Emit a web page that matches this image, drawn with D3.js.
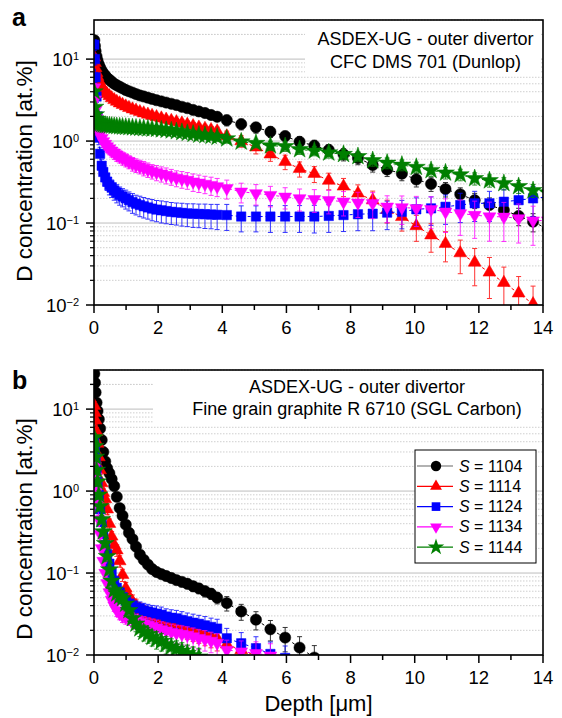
<!DOCTYPE html>
<html><head><meta charset="utf-8">
<script src="https://cdn.jsdelivr.net/npm/d3@7"></script>
<style>body{margin:0;background:#fff}svg{display:block}text{font-family:Arial,"Liberation Sans",Helvetica,sans-serif}</style>
</head><body><svg id="c" width="562" height="718"></svg>
<script>
// ---------------- DATA ----------------
const depth = [0.01,0.03,0.05,0.08,0.11,0.15,0.19,0.24,0.29,0.35,
 0.41,0.48,0.55,0.63,0.71,0.80,0.89,0.99,1.09,1.20,
 1.31,1.43,1.55,1.68,1.81,1.95,2.10,2.25,2.41,2.57,
 2.74,2.91,3.09,3.27,3.46,3.65,3.84,4.14,4.59,5.05,
 5.50,5.96,6.41,6.87,7.32,7.78,8.23,8.69,9.14,9.60,
 10.05,10.51,10.96,11.42,11.87,12.33,12.78,13.24,13.69,14.15];

const seriesLabels = ["1104","1114","1124","1134","1144"];
const seriesColors = ["#000000","#ff0000","#0000ff","#ff00ff","#007f00"];
const legendLineColors = ["#666666","#ff0000","#0000ff","#ff00ff","#007f00"];
const xTicks = [0,2,4,6,8,10,12,14];
const yTickExps = [-2,-1,0,1];

// panel a  (CFC DMS 701)
const a1104 = [17,14.5,12.5,10.8,9.6,8.6,7.9,7.2,6.7,6.3,
 5.9,5.6,5.3,5.0,4.8,4.6,4.4,4.2,4.05,3.9,
 3.75,3.6,3.5,3.38,3.27,3.15,3.05,2.95,2.85,2.75,
 2.62,2.52,2.4,2.3,2.2,2.08,1.98,1.80,1.61,1.47,
 1.30,1.15,0.98,0.88,0.78,0.69,0.62,0.51,0.45,0.40,
 0.34,0.30,0.26,0.224,0.19,0.166,0.144,0.122,0.104,0.084];
const a1114 = [10.5,9.0,7.8,6.8,6.1,5.5,5.0,4.6,4.3,4.0,
 3.75,3.55,3.35,3.18,3.03,2.9,2.78,2.66,2.55,2.45,
 2.36,2.27,2.19,2.11,2.04,1.97,1.90,1.83,1.77,1.71,
 1.65,1.59,1.53,1.47,1.42,1.37,1.32,1.15,1.0,0.84,
 0.69,0.56,0.46,0.40,0.33,0.28,0.23,0.19,0.145,0.119,
 0.092,0.071,0.056,0.043,0.033,0.025,0.0187,0.0139,0.0103,null];
const a1124 = [15,10,6,3.5,2.0,1.1,0.7,0.5,0.42,0.36,
 0.32,0.29,0.27,0.25,0.235,0.22,0.21,0.2,0.19,0.18,
 0.172,0.166,0.16,0.155,0.15,0.146,0.143,0.14,0.137,0.135,
 0.133,0.131,0.13,0.129,0.128,0.127,0.126,0.125,0.12,0.12,
 0.12,0.12,0.12,0.12,0.122,0.125,0.128,0.13,0.134,0.137,
 0.147,0.151,0.158,0.166,0.174,0.174,0.182,0.19,0.2,0.209];
const a1134 = [4.5,3.2,2.4,1.9,1.6,1.35,1.2,1.08,0.99,0.92,
 0.86,0.81,0.76,0.72,0.68,0.65,0.62,0.59,0.56,0.53,
 0.51,0.49,0.47,0.45,0.43,0.415,0.40,0.385,0.37,0.355,
 0.345,0.335,0.32,0.31,0.30,0.29,0.28,0.265,0.241,0.23,
 0.219,0.209,0.20,0.195,0.19,0.182,0.177,0.174,0.158,0.155,
 0.151,0.147,0.137,0.131,0.125,0.12,0.119,0.114,0.107,0.107];
const a1144 = [4.0,2.6,2.1,1.85,1.75,1.68,1.63,1.6,1.58,1.56,
 1.55,1.54,1.53,1.52,1.51,1.5,1.49,1.48,1.47,1.46,
 1.45,1.44,1.43,1.42,1.41,1.40,1.38,1.36,1.34,1.31,
 1.28,1.25,1.22,1.19,1.17,1.15,1.12,1.07,0.98,0.94,
 0.88,0.86,0.79,0.76,0.72,0.69,0.65,0.58,0.54,0.51,
 0.48,0.44,0.41,0.39,0.35,0.33,0.305,0.28,0.25,0.235];
// relative errors (%) panel a
const aErr1104 = [10,10,10,10,10,10,10,10,10,10, 10,10,10,10,10,10,10,10,10,10,
 10,10,10,10,10,10,10,10,10,10, 10,10,10,10,10,10,10,15,15,15,
 15,15,16,16,16,17,17,18,18,18, 19,19,20,20,21,22,23,24,25,26];
const aErr1114 = [10,10,10,10,10,10,10,10,10,10, 10,10,10,10,10,10,10,10,10,10,
 10,10,10,10,10,10,10,10,10,10, 10,10,10,10,10,10,12,15,16,17,
 18,20,21,22,23,25,27,29,31,33, 35,38,40,44,48,52,55,60,65,null];
const aErr1124 = [15,15,15,15,15,18,20,20,22,22, 22,24,24,24,25,25,25,26,26,27,
 27,28,28,28,29,29,30,30,30,30, 31,31,32,32,33,33,34,35,35,35,
 36,36,36,37,37,37,37,38,38,38, 38,38,39,39,40,40,40,40,40,40];
const aErr1134 = [12,12,12,12,12,14,14,15,15,15, 16,16,16,17,17,17,18,18,18,19,
 19,19,20,20,20,21,21,22,22,22, 23,23,24,24,24,25,25,26,27,28,
 28,29,30,31,32,33,34,35,36,38, 40,42,44,46,48,50,50,50,50,50];
const aErr1144 = [10,10,10,10,10,10,10,10,10,10, 10,10,10,10,10,10,10,10,10,10,
 10,10,10,10,10,10,10,10,10,10, 10,10,10,11,11,11,12,12,12,12,
 13,13,13,13,14,14,14,15,15,15, 15,16,16,16,17,17,17,18,18,18];

// panel b  (fine grain graphite R 6710)
const b1104 = [27,21,16,12,9.5,7.5,5.8,4.2,3.0,2.3,
 1.9,1.65,1.4,1.15,0.85,0.62,0.5,0.39,0.31,0.26,
 0.21,0.168,0.145,0.127,0.112,0.103,0.097,0.092,0.087,0.082,
 0.078,0.074,0.069,0.065,0.06,0.056,0.05,0.043,0.034,0.027,
 0.0206,0.0163,0.0123,0.0093,null,null,null,null,null,null,
 null,null,null,null,null,null,null,null,null,null];
const b1114 = [11,9,7.3,5.3,3.8,2.6,1.8,1.25,0.95,0.8,
 0.6,0.4,0.28,0.22,0.19,0.14,0.095,0.065,0.052,0.045,
 0.04,0.036,0.033,0.031,0.029,0.027,0.026,0.025,0.024,0.023,
 0.022,0.021,0.020,0.019,0.018,0.017,0.016,0.0135,0.0115,0.0098,
 null,null,null,null,null,null,null,null,null,null,
 null,null,null,null,null,null,null,null,null,null];
const b1124 = [4,3.2,2.5,1.8,1.3,0.9,0.6,0.42,0.3,0.22,
 0.17,0.13,0.1,0.08,0.066,0.058,0.051,0.046,0.042,0.04,
 0.038,0.037,0.035,0.034,0.033,0.032,0.031,0.0295,0.0285,0.028,
 0.0268,0.0258,0.0248,0.024,0.023,0.022,0.021,0.016,0.0139,0.0121,
 0.0103,0.0092,null,null,null,null,null,null,null,null,
 null,null,null,null,null,null,null,null,null,null];
const b1134 = [2.5,2.0,1.5,1.0,0.7,0.45,0.3,0.2,0.14,0.1,
 0.075,0.058,0.047,0.04,0.035,0.032,0.03,0.029,0.028,0.027,
 0.026,0.025,0.024,0.0232,0.0225,0.0215,0.0205,0.0198,0.019,0.0185,
 0.018,0.0175,0.0168,0.016,0.0155,0.0148,0.014,0.0115,0.011,0.0105,
 0.0098,null,null,null,null,null,null,null,null,null,
 null,null,null,null,null,null,null,null,null,null];
const b1144 = [4.5,3.5,2.6,1.8,1.3,0.9,0.65,0.45,0.32,0.23,
 0.16,0.11,0.08,0.062,0.056,0.052,0.049,0.042,0.035,0.028,
 0.024,0.021,0.019,0.0178,0.0165,0.0155,0.0147,0.0135,0.0126,0.0119,
 0.0112,0.0105,0.0099,0.0095,null,null,null,null,null,null,
 null,null,null,null,null,null,null,null,null,null,
 null,null,null,null,null,null,null,null,null,null];
const bErr1104 = [12,12,12,12,12,12,12,12,12,12, 12,12,12,12,12,12,12,12,12,12,
 12,12,12,12,12,12,12,12,12,12, 13,13,14,14,15,15,16,20,22,25,
 28,33,36,40,null,null,null,null,null,null, null,null,null,null,null,null,null,null,null,null];
const bErr1114 = [12,12,12,12,12,12,12,12,12,12, 14,14,15,15,16,16,17,18,18,20,
 20,20,22,22,22,24,24,24,25,25, 26,26,27,27,28,28,30,32,35,40,
 null,null,null,null,null,null,null,null,null,null, null,null,null,null,null,null,null,null,null,null];
const bErr1124 = [12,12,12,12,12,12,12,12,12,12, 14,14,15,15,16,16,17,18,18,20,
 20,20,22,22,22,24,24,24,25,25, 26,26,27,27,28,28,30,32,35,38,
 40,40,null,null,null,null,null,null,null,null, null,null,null,null,null,null,null,null,null,null];
const bErr1134 = [12,12,12,12,12,12,12,12,12,12, 14,14,15,15,16,16,17,18,18,20,
 20,20,22,22,22,24,24,24,25,25, 26,26,27,27,28,28,30,32,35,38,
 40,null,null,null,null,null,null,null,null,null, null,null,null,null,null,null,null,null,null,null];
const bErr1144 = [12,12,12,12,12,12,12,12,12,12, 14,14,15,15,16,16,17,18,18,20,
 20,20,22,22,22,24,24,24,25,25, 26,26,27,27,null,null,null,null,null,null,
 null,null,null,null,null,null,null,null,null,null, null,null,null,null,null,null,null,null,null,null];

// ---------------- DRAW ----------------
const svg = d3.select("#c");
const X0 = 94, X1 = 543;
const x = d3.scaleLinear().domain([0,14]).range([X0,X1]);
const symbols = [d3.symbolCircle, d3.symbolTriangle, d3.symbolSquare, d3.symbolTriangle, d3.symbolStar];
const symSizes = [100, 72, 88, 72, 100];
const symRot = [0,0,0,180,0];

const panels = [
  {id:"a", top:20, bottom:305, letterY:26,
   vals:[a1104,a1114,a1124,a1134,a1144], errs:[aErr1104,aErr1114,aErr1124,aErr1134,aErr1144],
   box:[305,21,236,53], notes:["ASDEX-UG - outer divertor","CFC DMS 701 (Dunlop)"], noteX:425.5, noteY:[45,68],
   titleY:171, legend:false},
  {id:"b", top:370, bottom:655, letterY:389,
   vals:[b1104,b1114,b1124,b1134,b1144], errs:[bErr1104,bErr1114,bErr1124,bErr1134,bErr1144],
   box:[153,371,388,53], notes:["ASDEX-UG - outer divertor","Fine grain graphite R 6710 (SGL Carbon)"], noteX:357, noteY:[393,415],
   titleY:529, legend:true}
];

panels.forEach(p => {
  const y = d3.scaleLog().domain([0.01,30]).range([p.bottom,p.top]);
  const g = svg.append("g");
  const clipId = "clip"+p.id;
  svg.append("defs").append("clipPath").attr("id",clipId)
    .append("rect").attr("x",X0).attr("y",p.top).attr("width",X1-X0).attr("height",p.bottom-p.top);

  // gridlines
  const minorVals = [];
  yTickExps.forEach(e => { for (let k=1;k<=9;k++){ const v=k*Math.pow(10,e); if (v<=30) minorVals.push({v, major:k===1}); } });
  [20,30].forEach(v=>minorVals.push({v,major:false}));
  g.selectAll(".grid").data(minorVals).join("line")
    .attr("x1",X0).attr("x2",X1)
    .attr("y1",d=>y(d.v)).attr("y2",d=>y(d.v))
    .attr("stroke",d=>d.major?"#bdbdbd":"#cfcfcf")
    .attr("stroke-width",1)
    .attr("stroke-dasharray",d=>d.major?null:"1.5,1.5");

  // note box (white behind annotation)
  g.append("rect").attr("x",p.box[0]).attr("y",p.box[1]).attr("width",p.box[2]).attr("height",p.box[3]).attr("fill","#fff");

  // series
  const sg = g.append("g").attr("clip-path",`url(#${clipId})`);
  p.vals.forEach((vals,si) => {
    const pts = depth.map((d,i)=>({d, v:vals[i], e:p.errs[si][i]})).filter(o=>o.v!=null);
    const col = seriesColors[si];
    sg.append("path").datum(pts)
      .attr("d", d3.line().x(o=>x(o.d)).y(o=>y(o.v)))
      .attr("fill","none").attr("stroke",col).attr("stroke-width",1).attr("stroke-dasharray","3,3");
    const eb = sg.append("g").attr("stroke",col).attr("stroke-width",1).attr("opacity",0.8);
    pts.forEach(o=>{
      if (o.e==null) return;
      const hi = o.v*(1+o.e/100), lo = Math.max(o.v*(1-o.e/100), 1e-4);
      const cx = x(o.d);
      eb.append("line").attr("x1",cx).attr("x2",cx).attr("y1",y(hi)).attr("y2",y(lo));
      eb.append("line").attr("x1",cx-2.5).attr("x2",cx+2.5).attr("y1",y(hi)).attr("y2",y(hi));
      eb.append("line").attr("x1",cx-2.5).attr("x2",cx+2.5).attr("y1",y(lo)).attr("y2",y(lo));
    });
    sg.append("g").selectAll("path").data(pts).join("path")
      .attr("d", d3.symbol().type(symbols[si]).size(symSizes[si]))
      .attr("transform", o=>`translate(${x(o.d)},${y(o.v)}) rotate(${symRot[si]})`)
      .attr("fill",col).attr("stroke",col).attr("stroke-width",0.5);
  });

  // frame
  g.append("rect").attr("x",X0).attr("y",p.top).attr("width",X1-X0).attr("height",p.bottom-p.top)
    .attr("fill","none").attr("stroke","#000").attr("stroke-width",1.6);

  // x axis ticks
  const xMinor = d3.range(1,14,2);
  g.selectAll(".xt").data(xTicks).join("line")
    .attr("x1",d=>x(d)).attr("x2",d=>x(d)).attr("y1",p.bottom).attr("y2",p.bottom+8)
    .attr("stroke","#000").attr("stroke-width",1.5);
  g.selectAll(".xm").data(xMinor).join("line")
    .attr("x1",d=>x(d)).attr("x2",d=>x(d)).attr("y1",p.bottom).attr("y2",p.bottom+5)
    .attr("stroke","#000").attr("stroke-width",1.5);
  g.selectAll(".xl").data(xTicks).join("text")
    .attr("x",d=>x(d)).attr("y",p.bottom+29).attr("text-anchor","middle")
    .attr("font-size",18.5).text(d=>d);

  // y axis ticks
  g.selectAll(".ym").data(minorVals.filter(d=>!d.major && d.v<30)).join("line")
    .attr("x1",X0-4).attr("x2",X0).attr("y1",d=>y(d.v)).attr("y2",d=>y(d.v))
    .attr("stroke","#000").attr("stroke-width",1.2);
  g.selectAll(".yt").data(yTickExps).join("line")
    .attr("x1",X0-8).attr("x2",X0).attr("y1",d=>y(Math.pow(10,d))).attr("y2",d=>y(Math.pow(10,d)))
    .attr("stroke","#000").attr("stroke-width",1.5);
  const yl = g.selectAll(".yl").data(yTickExps).join("text")
    .attr("x",79).attr("y",d=>y(Math.pow(10,d))+6.5).attr("text-anchor","end");
  yl.append("tspan").attr("font-size",18.5).text("10");
  yl.append("tspan").attr("font-size",11).attr("dy",-6).text(d=>d<0?"\u2212"+(-d):d);

  // y title
  g.append("text").attr("transform",`translate(32,${p.titleY}) rotate(-90)`)
    .attr("text-anchor","middle").attr("font-size",22.5).text("D concentration [at.%]");

  // panel letter
  g.append("text").attr("x",12).attr("y",p.letterY).attr("font-size",25).attr("font-weight","bold").text(p.id);

  // notes
  p.notes.forEach((t,i)=>{
    g.append("text").attr("x",p.noteX).attr("y",p.noteY[i]).attr("text-anchor","middle").attr("font-size",18).text(t);
  });

  if (p.legend) {
    const lg = g.append("g");
    lg.append("rect").attr("x",415).attr("y",450).attr("width",121).attr("height",113)
      .attr("fill","#fff").attr("stroke","#000").attr("stroke-width",1);
    seriesLabels.forEach((lab,i)=>{
      const ly = 466 + i*20.3;
      lg.append("line").attr("x1",417).attr("x2",453).attr("y1",ly).attr("y2",ly)
        .attr("stroke",legendLineColors[i]).attr("stroke-width",1.2);
      lg.append("path").attr("d",d3.symbol().type(symbols[i]).size(symSizes[i]*0.85))
        .attr("transform",`translate(436,${ly}) rotate(${symRot[i]})`).attr("fill",seriesColors[i]);
      const t = lg.append("text").attr("x",459).attr("y",ly+5.5).attr("font-size",16);
      t.append("tspan").attr("font-style","italic").text("S");
      t.append("tspan").text(" = "+lab);
    });
  }
});

// x title
svg.append("text").attr("x",(X0+X1)/2).attr("y",711).attr("text-anchor","middle").attr("font-size",22).text("Depth [\u03BCm]");
</script></body></html>
